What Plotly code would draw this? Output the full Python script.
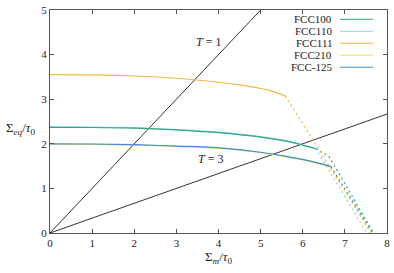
import plotly.graph_objects as go

names = ["FCC100", "FCC110", "FCC111", "FCC210", "FCC-125"]
colors = ["#2fa882", "#96cdf0", "#f0b845", "#f0e050", "#3d8fc8"]

# solid parts
top_x = [0, 1, 2, 3, 3.53, 4, 5, 5.6, 5.88, 6.31]
top_y = [2.37, 2.366, 2.35, 2.31, 2.28, 2.25, 2.15, 2.06, 2.0, 1.89]
top_y_b = [2.38, 2.376, 2.36, 2.32, 2.29, 2.26, 2.16, 2.07, 2.01, 1.895]
low_x = [0, 1, 2, 3, 4, 5, 5.6, 6, 6.4, 6.67]
low_y = [2.0, 1.995, 1.98, 1.95, 1.91, 1.81, 1.72, 1.65, 1.56, 1.49]
low_y_b = [1.99, 1.985, 1.97, 1.94, 1.90, 1.80, 1.71, 1.64, 1.55, 1.48]
o_x = [0, 1, 2, 3, 4, 4.5, 5, 5.3, 5.59]
o_y = [3.55, 3.545, 3.52, 3.47, 3.38, 3.32, 3.24, 3.17, 3.07]

solid_x = [top_x, top_x, o_x, low_x, low_x]
solid_y = [top_y, top_y_b, o_y, low_y_b, low_y]

# dashed (unstable) parts
dash_x = [[6.31, 6.63, 7.68], [6.31, 6.47, 7.52], [5.59, 7.62], [6.67, 7.6], [6.67, 7.66]]
dash_y = [[1.89, 1.71, 0.0], [1.895, 1.64, 0.0], [3.07, 0.0], [1.48, 0.0], [1.49, 0.0]]

t1_x = [0, 5]
t1_y = [0, 5]
t3_x = [0, 8]
t3_y = [0, 8 / 3]

FONT = "Liberation Serif, DejaVu Serif, serif"
fig = go.Figure()
fig.add_trace(go.Scatter(x=t1_x, y=t1_y, mode="lines", line=dict(color="#333333", width=1), showlegend=False))
fig.add_trace(go.Scatter(x=t3_x, y=t3_y, mode="lines", line=dict(color="#333333", width=1), showlegend=False))
for i in [1, 0, 2, 3, 4]:
    fig.add_trace(go.Scatter(x=solid_x[i], y=solid_y[i], mode="lines", line=dict(color=colors[i], width=1.2, shape="spline"),
                             showlegend=False))
    fig.add_trace(go.Scatter(x=dash_x[i], y=dash_y[i], mode="lines", line=dict(color=colors[i], width=1.2, dash="2px,3px"),
                             showlegend=False))

# legend (text right, sample line to the right)
ann = []
shapes = []
for i, n in enumerate(names):
    yy = 15 + i * 12.2
    yp = 1 - (yy - 5.5) / 227.2
    ann.append(dict(x=(336.5 - 50.5) / 339.5, y=yp, xref="paper", yref="paper", text=n, showarrow=False,
                    xanchor="right", yanchor="middle", font=dict(family=FONT, size=11, color="#222")))
    shapes.append(dict(type="line", xref="paper", yref="paper", x0=(342.7 - 50.5) / 339.5, x1=(376 - 50.5) / 339.5,
                       y0=yp, y1=yp, line=dict(color=colors[i], width=1)))

ann.append(dict(x=3.76, y=4.28, text="<i>T</i> = 1", showarrow=False, font=dict(family=FONT, size=12, color="#222")))
ann.append(dict(x=3.81, y=1.66, text="<i>T</i> = 3", showarrow=False, font=dict(family=FONT, size=12, color="#222")))
ann.append(dict(x=-0.088, y=0.47, xref="paper", yref="paper", text="Σ<sub><i>eq</i></sub>/<i>τ</i><sub>0</sub>",
                showarrow=False, xanchor="center", font=dict(family=FONT, size=13, color="#222")))
ann.append(dict(x=0.5, y=-0.065, xref="paper", yref="paper", text="Σ<sub><i>m</i></sub>/<i>τ</i><sub>0</sub>",
                showarrow=False, yanchor="top", font=dict(family=FONT, size=13, color="#222")))

axis_common = dict(showgrid=False, zeroline=False, showline=True, linecolor="#555", linewidth=1, mirror="allticks",
                   ticks="inside", ticklen=4, tickcolor="#555", ticklabeloverflow="allow",
                   tickfont=dict(family=FONT, size=11, color="#222"))
fig.update_layout(
    width=394, height=273, margin=dict(l=50, r=4, t=5, b=40),
    plot_bgcolor="white", paper_bgcolor="white",
    xaxis=dict(range=[0, 8], dtick=1, **axis_common),
    yaxis=dict(range=[0, 5], dtick=1, **axis_common),
    annotations=ann, shapes=shapes, showlegend=False,
)
fig.write_html("out.html", config={"displayModeBar": False},
               post_script="document.body.style.margin='0';document.body.style.padding='0';")
